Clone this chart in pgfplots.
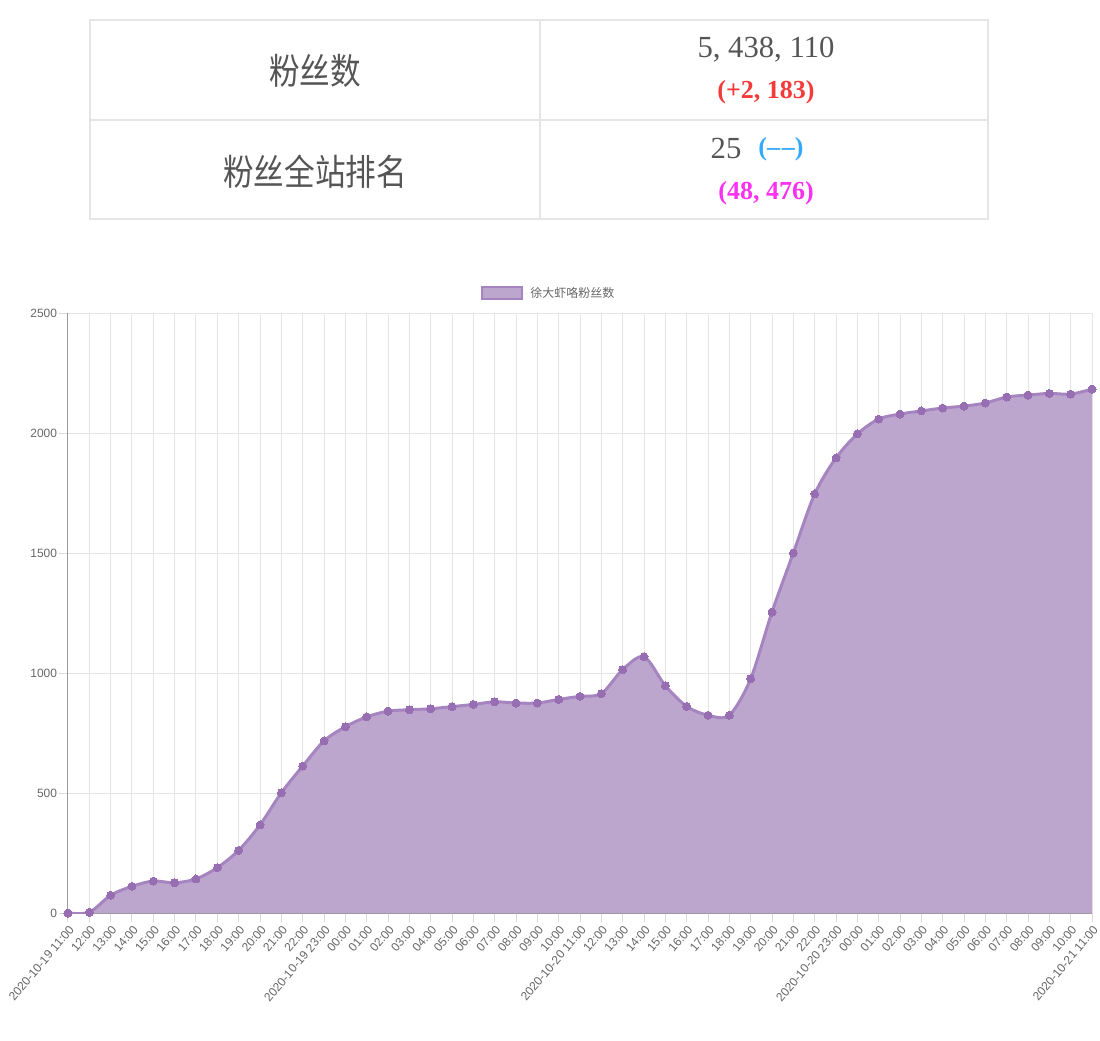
\documentclass[border=0pt]{standalone}
\usepackage{pgfplots}
\usepackage{pgfplotstable}
\pgfplotsset{compat=1.18}
\usepackage{fontspec}
\setmainfont{Liberation Sans}
\newfontfamily\cjk{Noto Sans CJK SC}
\newfontfamily\cjkn[FakeStretch=0.85]{Noto Sans CJK SC}
\newfontfamily\numf{Liberation Serif}
\definecolor{fillc}{RGB}{188,166,206}
\definecolor{linec}{RGB}{165,132,192}
\definecolor{markc}{RGB}{152,110,178}
\definecolor{txtg}{RGB}{85,85,85}
\definecolor{redc}{RGB}{245,58,58}
\definecolor{bluec}{RGB}{51,170,255}
\definecolor{magc}{RGB}{250,50,240}
\pgfplotstableread{
x y
0 0
1 3
2 74
3 111
4 133
5 126
6 142
7 189
8 261
9 367
10 501
11 612
12 717
13 776
14 817
15 841
16 847
17 851
18 860
19 869
20 880
21 875
22 875
23 890
24 903
25 914
26 1014
27 1068
28 947
29 861
30 824
31 824
32 976
33 1254
34 1500
35 1746
36 1896
37 1996
38 2058
39 2079
40 2092
41 2104
42 2112
43 2125
44 2150
45 2158
46 2165
47 2162
48 2183
}\fans
\begin{document}
\begin{tikzpicture}
\path[use as bounding box] (0pt,0pt) rectangle (825pt,-780.75pt);
\begin{scope}[x=0.75pt,y=-0.75pt]
\draw[draw=black!10, line width=1.5pt] (90,20) rectangle (988,219);
\draw[draw=black!10, line width=1.5pt] (90,120) -- (988,120);
\draw[draw=black!10, line width=1.5pt] (540,20) -- (540,219);
\node[text=txtg, font=\cjkn\fontsize{27}{30}\selectfont] at (315,71) {粉丝数};
\node[text=txtg, font=\cjkn\fontsize{27}{30}\selectfont] at (315,172) {粉丝全站排名};
\node[text=txtg, font=\numf\fontsize{23}{26}\selectfont] at (766,50) {5, 438, 110};
\node[text=redc, font=\numf\bfseries\fontsize{19.5}{22}\selectfont] at (766,92) {(+2, 183)};
\node[text=txtg, font=\numf\fontsize{23}{26}\selectfont] at (726,148) {25};
\node[text=bluec, font=\numf\bfseries\fontsize{19.5}{22}\selectfont] at (781,149) {(\textendash\kern1.5pt\textendash)};
\node[text=magc, font=\numf\bfseries\fontsize{19.5}{22}\selectfont] at (766,193) {(48, 476)};
\end{scope}
\begin{axis}[
  at={(51pt,-684.75pt)}, anchor=south west,
  scale only axis, width=768pt, height=450pt,
  xmin=0, xmax=48, ymin=0, ymax=2500,
  xtick={0,...,48},
  xticklabels={2020-10-19 11:00,12:00,13:00,14:00,15:00,16:00,17:00,18:00,19:00,20:00,21:00,22:00,2020-10-19 23:00,00:00,01:00,02:00,03:00,04:00,05:00,06:00,07:00,08:00,09:00,10:00,2020-10-20 11:00,12:00,13:00,14:00,15:00,16:00,17:00,18:00,19:00,20:00,21:00,22:00,2020-10-20 23:00,00:00,01:00,02:00,03:00,04:00,05:00,06:00,07:00,08:00,09:00,10:00,2020-10-21 11:00},
  ytick={0,500,...,2500},
  grid=major, major grid style={draw=black!10, line width=0.75pt},
  axis x line*=bottom, axis y line*=left,
  axis line style={draw=black!40, line width=0.75pt, -},
  tick align=outside, major tick length=7pt,
  tick style={draw=black!15, line width=0.75pt},
  every tick label/.append style={font=\fontsize{9}{10}\selectfont, text=black!60},
  xticklabel style={rotate=50, anchor=north east, inner sep=1pt},
  yticklabel style={inner sep=1pt},
  /pgf/number format/assume math mode=true,
  scaled y ticks=false, y tick label style={/pgf/number format/1000 sep={}},
  legend style={at={(axis description cs:0.47,1)}, anchor=south, yshift=6pt, draw=none, fill=none,
    font=\cjk\fontsize{9}{10}\selectfont, text=black!60},
  legend image code/.code={\fill[fillc, draw=linec, line width=1.5pt] (0pt,-4.5pt) rectangle (30pt,4.5pt);
    \path (30pt,0pt) -- (34pt,0pt);},
]
\addplot[draw=none, fill=fillc, smooth] table[x=x,y=y] {\fans} \closedcycle;
\addplot[linec, line width=2.25pt, smooth, mark=*, mark size=3pt,
  mark options={fill=markc, draw=markc, line width=0pt}] table[x=x,y=y] {\fans};
\legend{徐大虾咯粉丝数}
\end{axis}
\end{tikzpicture}
\end{document}
